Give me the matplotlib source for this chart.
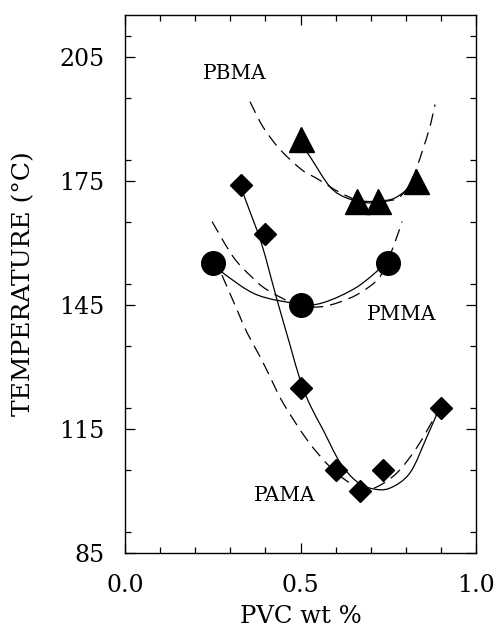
import matplotlib
matplotlib.use("Agg")
import matplotlib.pyplot as plt
from matplotlib.ticker import MultipleLocator
from matplotlib.path import Path
from matplotlib.patches import PathPatch

plt.rcParams['font.family'] = ['DejaVu Serif']
plt.rcParams['lines.scale_dashes'] = False

# Measured data
pbma_x = [0.50, 0.66, 0.72, 0.83]
pbma_y = [185, 170, 170, 175]
pmma_x = [0.25, 0.50, 0.75]
pmma_y = [155, 145, 155]
pama_x = [0.33, 0.40, 0.50, 0.60, 0.67, 0.735, 0.90]
pama_y = [174, 162, 125, 105, 100, 105, 120]

# Fitted (solid) curves
pbma_fit_x = [0.493, 0.527, 0.584, 0.632, 0.684, 0.741, 0.775, 0.829]
pbma_fit_y = [184.9, 180.8, 173.5, 170.8, 170.0, 170.2, 171.1, 174.5]
pmma_fit_x = [0.248, 0.279, 0.376, 0.499, 0.564, 0.661, 0.746]
pmma_fit_y = [155.2, 152.7, 147.4, 145.2, 145.5, 149.3, 155.2]
pama_fit_x = [0.328, 0.356, 0.390, 0.433, 0.470, 0.499, 0.527, 0.564, 0.613, 0.661, 0.707, 0.755, 0.812, 0.860, 0.897]
pama_fit_y = [173.8, 167.5, 159.5, 146.2, 135.3, 126.8, 120.8, 114.8, 106.8, 102.2, 100.5, 100.7, 104.4, 113.1, 120.3]

# Predicted (dashed) curves
pbma_pred_x = [0.356, 0.393, 0.442, 0.504, 0.547, 0.613, 0.684, 0.755, 0.783, 0.810, 0.832, 0.866, 0.883]
pbma_pred_y = [194.1, 188.0, 182.5, 177.6, 175.5, 172.1, 169.7, 170.2, 171.1, 174.0, 178.4, 187.3, 193.4]
pmma_pred_x = [0.248, 0.308, 0.360, 0.405, 0.490, 0.556, 0.613, 0.670, 0.726, 0.764, 0.789]
pmma_pred_y = [165.1, 156.6, 151.8, 148.6, 145.0, 144.5, 145.7, 147.9, 151.8, 159.0, 165.1]
pama_pred_x = [0.276, 0.319, 0.348, 0.385, 0.413, 0.450, 0.519, 0.584, 0.641, 0.684, 0.718, 0.775, 0.832, 0.889]
pama_pred_y = [152.2, 143.8, 138.2, 132.4, 127.6, 121.3, 112.3, 105.8, 101.9, 100.7, 101.0, 104.4, 110.6, 118.9]

labels = ['PBMA', 'PMMA', 'PAMA']
label_x = [0.313, 0.789, 0.456]
label_y = [201.0, 142.6, 99.0]

x_ticks = [0.0, 0.5, 1.0]
x_ticklabels = ['0.0', '0.5', '1.0']
y_ticks = [85, 115, 145, 175, 205]


def smooth_path(xs, ys):
    """Smooth curve through the read points, drawn by matplotlib's Bezier path."""
    pts = list(zip(xs, ys))
    n = len(pts)
    verts = [pts[0]]
    codes = [Path.MOVETO]
    for i in range(n - 1):
        p0 = pts[i - 1] if i > 0 else pts[i]
        p1 = pts[i]
        p2 = pts[i + 1]
        p3 = pts[i + 2] if i + 2 < n else pts[i + 1]
        c1 = (p1[0] + (p2[0] - p0[0]) / 6.0, p1[1] + (p2[1] - p0[1]) / 6.0)
        c2 = (p2[0] - (p3[0] - p1[0]) / 6.0, p2[1] - (p3[1] - p1[1]) / 6.0)
        verts += [c1, c2, p2]
        codes += [Path.CURVE4] * 3
    return Path(verts, codes)


fig = plt.figure(figsize=(4.98, 6.32), dpi=100)
ax = fig.add_axes([0.251, 0.125, 0.705, 0.851])

lw = 0.9
for xs, ys in [(pbma_pred_x, pbma_pred_y), (pmma_pred_x, pmma_pred_y), (pama_pred_x, pama_pred_y)]:
    ax.add_patch(PathPatch(smooth_path(xs, ys), fill=False, edgecolor='black',
                           lw=lw, linestyle=(0, (9, 5))))
for xs, ys in [(pbma_fit_x, pbma_fit_y), (pmma_fit_x, pmma_fit_y), (pama_fit_x, pama_fit_y)]:
    ax.add_patch(PathPatch(smooth_path(xs, ys), fill=False, edgecolor='black', lw=lw))

ax.plot(pbma_x, pbma_y, ls='none', marker='^', ms=18, color='black')
ax.plot(pmma_x, pmma_y, ls='none', marker='o', ms=17, color='black')
ax.plot(pama_x, pama_y, ls='none', marker='D', ms=11.5, color='black')

for t, tx, ty in zip(labels, label_x, label_y):
    ax.text(tx, ty, t, ha='center', va='center', fontsize=14.5)

ax.set_xlim(0, 1)
ax.set_ylim(85, 215)
ax.set_xticks(x_ticks)
ax.set_xticklabels(x_ticklabels)
ax.set_yticks(y_ticks)
ax.xaxis.set_minor_locator(MultipleLocator(0.1))
ax.yaxis.set_minor_locator(MultipleLocator(15))
ax.tick_params(which='both', direction='in', top=True, right=True, labelsize=17, width=0.9)
ax.tick_params(which='major', length=7, pad=15)
ax.tick_params(which='minor', length=4)
for s in ax.spines.values():
    s.set_linewidth(1.0)

ax.set_xlabel('PVC wt %', fontsize=17.5, labelpad=6)
ax.set_ylabel('TEMPERATURE (°C)', fontsize=18, labelpad=17)

fig.savefig('out.png', dpi=100)
